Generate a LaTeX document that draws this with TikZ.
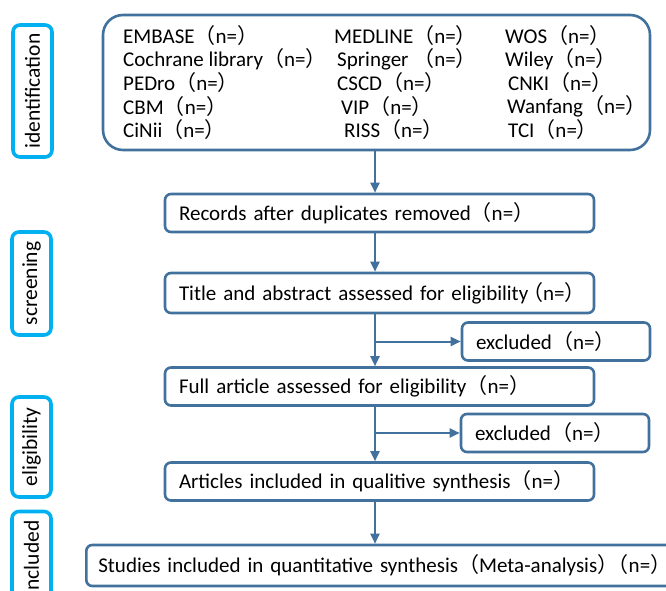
\documentclass[tikz,border=0pt]{standalone}
\usepackage{fontspec}
\setmainfont{Carlito}
\newfontfamily\cjk{Noto Sans CJK SC}
\usetikzlibrary{arrows.meta}
\definecolor{boxblue}{RGB}{65,113,156}
\definecolor{tagblue}{RGB}{0,176,240}
\newcommand{\nn}{{\cjk （}n={\cjk ）}}

\begin{document}
\begin{tikzpicture}[x=1pt,y=-1pt,
  stage/.style={draw=boxblue,line width=2.6pt,rounded corners=6pt,text width=#1,align=left,
    inner xsep=14pt,inner ysep=0pt,minimum height=38pt,font=\fontsize{21}{25}\selectfont},
  tag/.style={draw=tagblue,line width=3.6pt,rounded corners=7pt,rotate=90,minimum width=#1,
    minimum height=39pt,inner sep=0pt,font=\fontsize{21.5}{25}\selectfont},
  src/.style={anchor=west,inner sep=0pt,font=\fontsize{21}{25}\selectfont},
  flow/.style={draw=boxblue,line width=2pt,-{Triangle[length=10pt,width=9pt]}}]
\useasboundingbox (0,0) rectangle (666,591);
% stage labels on the left
\node[tag=132pt] (tagid) at (32.5,91) {identification};
\node[tag=103pt] (tagscr) at (31.5,283.5) {screening};
\node[tag=100pt] (tagel) at (31.5,447) {eligibility};
\node[tag=93pt] (taginc) at (31.5,558) {included};
% databases
\node[draw=boxblue,line width=2.6pt,rounded corners=20pt,minimum width=547pt,minimum height=135pt] (sources) at (376.5,82.5) {};
\node[src] (embase) at (123,36) {EMBASE\nn};
\node[src] (medline) at (334,36) {MEDLINE\nn};
\node[src] (wos) at (505,36) {WOS\nn};
\node[src] (cochrane) at (123,59.5) {Cochrane library\nn};
\node[src] (springer) at (337,59.5) {Springer \nn};
\node[src] (wiley) at (505,59.5) {Wiley\nn};
\node[src] (pedro) at (123,83) {PEDro\nn};
\node[src] (cscd) at (337,83) {CSCD\nn};
\node[src] (cnki) at (508,83) {CNKI\nn};
\node[src] (cbm) at (123,106.5) {CBM\nn};
\node[src] (vip) at (341,106.5) {VIP\nn};
\node[src] (wanfang) at (507,106.5) {Wanfang\nn};
\node[src] (cinii) at (123,130) {CiNii\nn};
\node[src] (riss) at (344,130) {RISS\nn};
\node[src] (tci) at (508,130) {TCI\nn};
% flow boxes
\node[stage=401pt] (records) at (379.5,213) {\mbox{Records after duplicates removed\nn}};
\node[stage=401pt,minimum height=40pt] (title) at (379.5,293) {\mbox{Title and abstract assessed for eligibility\kern-0.3em\nn}};
\node[stage=160pt] (excla) at (556,341.5) {\mbox{excluded\nn}};
\node[stage=401pt] (full) at (379.5,386.5) {\mbox{Full article assessed for eligibility\nn}};
\node[stage=160pt] (exclb) at (555,433) {\mbox{excluded\nn}};
\node[stage=401pt] (articles) at (379.5,481.5) {\mbox{Articles included in qualitive synthesis\nn}};
\node[stage=600pt,minimum height=41pt,inner xsep=12pt,anchor=west] (studies) at (85,565.5) {\mbox{Studies included in quantitative synthesis{\cjk （}Meta-analysis{\cjk ）}\kern-0.5em\nn}};
% connectors
\coordinate (spine) at (375,0);
\draw[flow] (sources.south -| spine) -- (records.north -| spine);
\draw[flow] (records.south -| spine) -- (title.north -| spine);
\draw[flow] (title.south -| spine) -- (full.north -| spine);
\draw[flow] (excla.west -| spine) -- (excla.west);
\draw[flow] (full.south -| spine) -- (articles.north -| spine);
\draw[flow] (exclb.west -| spine) -- (exclb.west);
\draw[flow] (articles.south -| spine) -- (studies.north -| spine);
\end{tikzpicture}
\end{document}
